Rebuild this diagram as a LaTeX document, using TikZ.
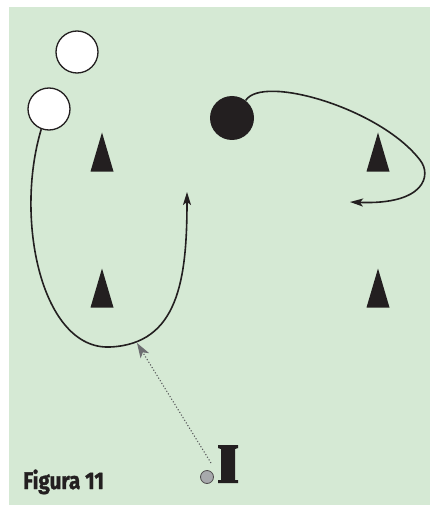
\documentclass[tikz,border=0pt]{standalone}
\usepackage{fontspec}
\usepackage{tikz}
\usetikzlibrary{arrows.meta, positioning, calc}
\usepackage{xcolor}
\newfontfamily\figfont[FakeStretch=0.86, BoldFeatures={FakeBold=1.3}]{Fira Sans}
\definecolor{pitchGreen}{HTML}{D5E9D4}
\definecolor{inkBlack}{HTML}{231F20}
\definecolor{passGray}{HTML}{58595B}
\definecolor{tipGray}{HTML}{6D6E71}
\definecolor{ballGray}{HTML}{A7A9AC}
\tikzset{
    attacker/.style={circle, draw=inkBlack, fill=white, line width=1.3pt, minimum size=42pt, inner sep=0pt},
    defender/.style={circle, fill=inkBlack, minimum size=44pt, inner sep=0pt},
    ball/.style={circle, draw=inkBlack!80, fill=ballGray, line width=0.8pt, minimum size=13pt, inner sep=0pt},
    run/.style={-{Stealth[length=13pt, width=8pt, inset=3pt]}, line width=1.6pt, draw=inkBlack},
    pass/.style={-{Stealth[length=15pt, width=10pt, inset=4pt, fill=tipGray, color=tipGray]}, dotted, line width=1.1pt, draw=passGray},
    cone/.pic={\fill[inkBlack] (-11.5,19.5) -- (0,-19.5) -- (11.5,19.5) -- cycle;},
    caption/.style={anchor=base west, inner sep=0pt, text=inkBlack, font=\figfont\bfseries\fontsize{24}{24}\selectfont},
}

\begin{document}
\begin{tikzpicture}[x=1pt, y=-1pt]
    \useasboundingbox (0,0) rectangle (430,505);
    \fill[pitchGreen] (9,7) rectangle (430,505);

    \node[attacker] (att1) at (77,52) {};
    \node[attacker] (att2) at (49,109) {};
    \node[defender] (def) at (232,118) {};
    \node[ball] (ball) at (207,477) {};

    \pic (coneA) at (102,152) {cone};
    \pic (coneB) at (102,288) {cone};
    \pic (coneC) at (378,152) {cone};
    \pic (coneD) at (378,288) {cone};

    \fill[inkBlack] (218,445) -- (238,445) -- (238,448) -- (235,449) -- (235,480) -- (238,480)
        -- (238,483) -- (218,483) -- (218,480) -- (221,480) -- (221,449) -- (218,448) -- cycle;

    \coordinate (runEnd) at (187,192);
    \coordinate (dropEnd) at (350,202);
    \coordinate (kick) at (211,463);
    \coordinate (receive) at (137,343);

    \draw[run] (att2.249) .. controls (14,220) and (42,350) .. (110,347)
        .. controls (178,344) and (187,280) .. (runEnd);
    \draw[run] (def.52) .. controls (262,74) and (380,108) .. (420,160)
        .. controls (432,175) and (425,205) .. (dropEnd);
    \draw[pass] (kick) -- (receive);

    \node[caption] (fig) at (23,489) {Figura 11};
\end{tikzpicture}
\end{document}
